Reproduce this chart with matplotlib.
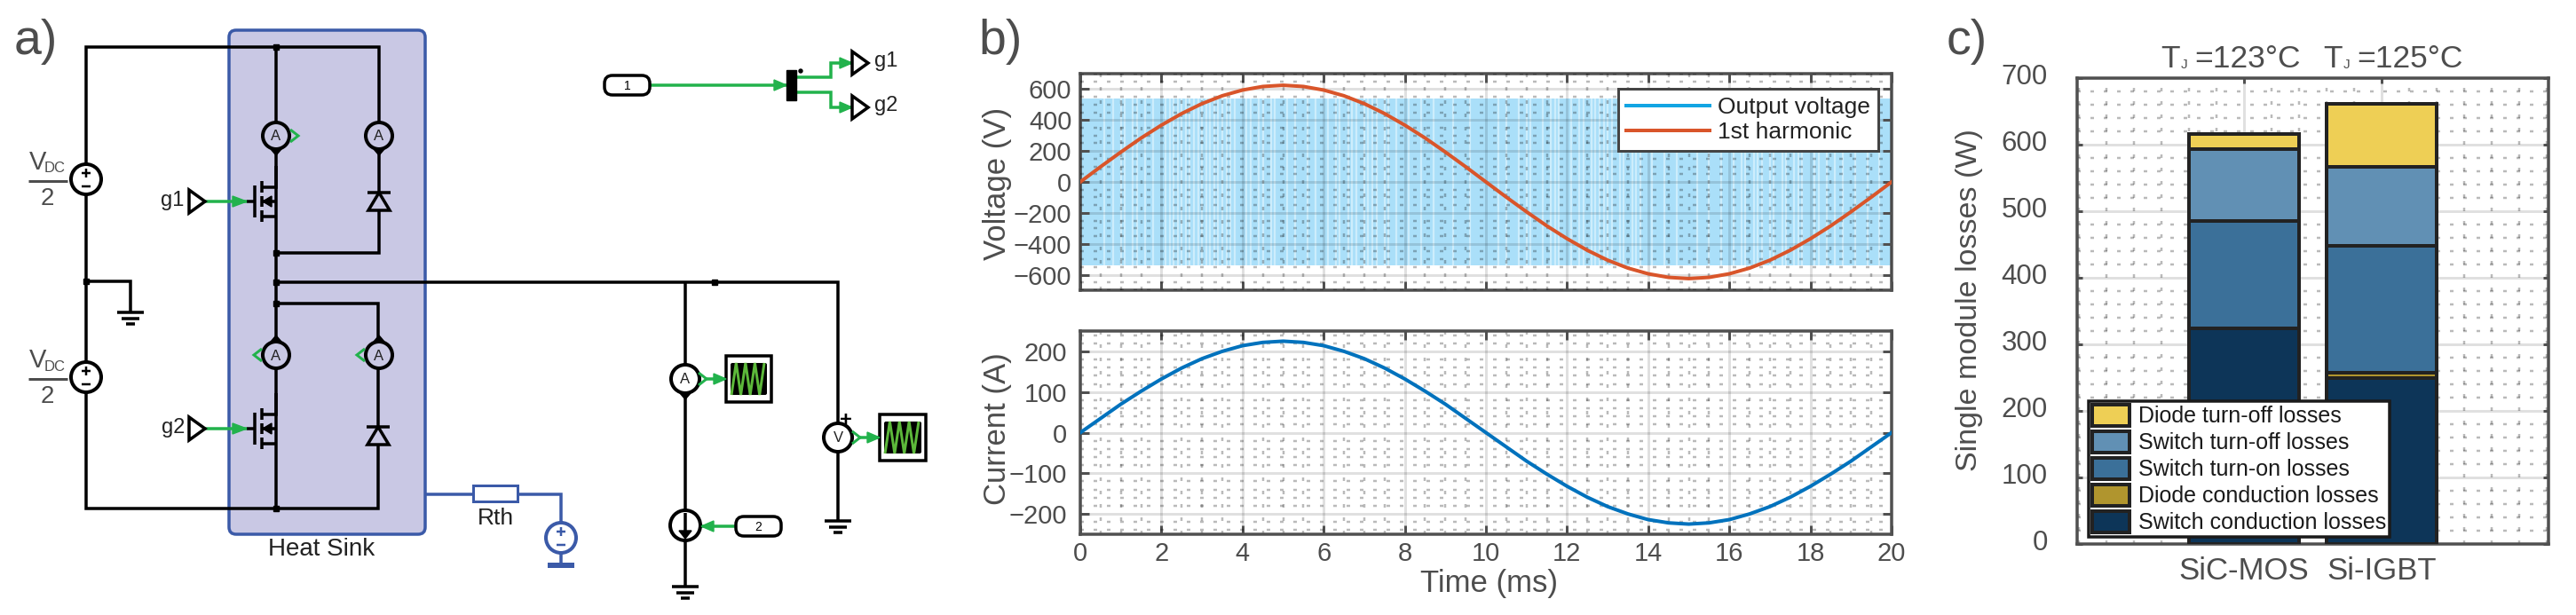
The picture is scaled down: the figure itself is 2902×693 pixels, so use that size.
#
# Inverter model schematic, output waveforms and module losses
#
import matplotlib

matplotlib.use("Agg")
import matplotlib.pyplot as plt
from matplotlib.lines import Line2D
from matplotlib.patches import Circle, FancyBboxPatch, Polygon, Rectangle
from matplotlib.ticker import MultipleLocator
from matplotlib.transforms import ScaledTranslation

plt.rcParams["font.family"] = ["Liberation Sans", "DejaVu Sans"]

# harmonic and current read every 0.5 ms
time_ms = [
    0, 0.5, 1, 1.5, 2, 2.5, 3, 3.5, 4, 4.5, 5, 5.5, 6, 6.5, 7, 7.5, 8, 8.5, 9, 9.5, 10,
    10.5, 11, 11.5, 12, 12.5, 13, 13.5, 14, 14.5, 15, 15.5, 16, 16.5, 17, 17.5, 18,
    18.5, 19, 19.5, 20,
]
harmonic_v = [
    0, 98, 193, 284, 367, 442, 506, 557, 594, 617, 625, 617, 594, 557, 506, 442, 367,
    284, 193, 98, 0, -98, -193, -284, -367, -442, -506, -557, -594, -617, -625, -617,
    -594, -557, -506, -442, -367, -284, -193, -98, 0,
]
current_a = [
    0, 35, 70, 102, 132, 159, 182, 200, 214, 222, 225, 222, 214, 200, 182, 159, 132,
    102, 70, 35, 0, -35, -70, -102, -132, -159, -182, -200, -214, -222, -225, -222,
    -214, -200, -182, -159, -132, -102, -70, -35, 0,
]

# PWM output: envelope of the band and the paler pulses seen in it
band_t = [0, 20]
band_hi = [542, 542]
band_lo = [-542, -542]
pale_pulses_ms = [
    0.6, 0.8, 1.0, 1.1, 1.3, 1.4, 1.6, 1.8, 2.1, 2.2, 2.3, 2.4, 2.5, 2.6, 2.7, 2.8, 2.9,
    3.0, 3.1, 3.2, 3.3, 3.4, 3.5, 3.6, 3.7, 3.8, 4.1, 4.2, 4.4, 4.5, 4.7, 4.8, 5.1, 5.3,
    5.6, 5.8, 6.1, 6.3, 6.4, 6.6, 6.7, 6.8, 7.0, 7.1, 7.2, 7.3, 7.5, 7.6, 7.8, 8.1, 8.4,
    8.7, 9.2, 9.6, 10.3, 10.5, 10.8, 11.0, 11.1, 11.4, 11.6, 11.7, 11.8, 12.1, 12.3,
    12.4, 12.6, 12.7, 12.8, 12.9, 13.0, 13.1, 13.3, 13.4, 13.6, 13.7, 13.8, 14.1, 14.4,
    14.7, 15.2, 15.5, 15.8, 16.1, 16.3, 16.4, 16.6, 16.7, 16.8, 17.0, 17.1, 17.3, 17.4,
    17.6, 17.7, 17.8, 18.1, 18.2, 18.4, 18.6, 18.8, 19.1, 19.4, 19.7,
]

# stacked losses per module
devices = ["SiC-MOS", "Si-IGBT"]
device_x = [1, 2]
junction_temps = ["=123°C", "=125°C"]
loss_names = [
    "Switch conduction losses",
    "Diode conduction losses",
    "Switch turn-on losses",
    "Switch turn-off losses",
    "Diode turn-off losses",
]
switch_conduction = [324, 249]
diode_conduction = [0, 9]
switch_turn_on = [161, 190]
switch_turn_off = [109, 119]
diode_turn_off = [22, 95]
loss_colours = ["#0d3558", "#b0952e", "#3b7099", "#6190b4", "#eecf55"]

WIDTH, HEIGHT = 2902, 693
GREY = "#4d4d4d"
FRAME = "#505050"
GREEN = "#22b24c"
BLUE = "#3b5aa8"
PX = 0.72  # points per pixel at dpi 100


def axes_from_pixels(fig, left, top, right, bottom):
    rect = [left / WIDTH, 1 - bottom / HEIGHT, (right - left) / WIDTH, (bottom - top) / HEIGHT]
    return fig.add_axes(rect)


def style_axes(ax, tick_px=10, tick_size=21):
    for spine in ax.spines.values():
        spine.set_color(FRAME)
        spine.set_linewidth(3.5 * PX)
    ax.tick_params(
        which="major", direction="in", top=True, right=True, length=tick_px * PX,
        width=3 * PX, color=FRAME, labelcolor=GREY, labelsize=tick_size,
    )
    ax.tick_params(which="minor", length=0)
    ax.grid(which="major", color="k", alpha=0.12, lw=3 * PX)
    ax.grid(which="minor", color="k", alpha=0.27, lw=2.5 * PX, ls=(0, (1.6, 4.4)))


def wire(ax, xs, ys, color="k", lw=3.5, zorder=3):
    ax.plot(xs, ys, color=color, lw=lw * PX, solid_joinstyle="miter", solid_capstyle="butt", zorder=zorder)


def node(ax, x, y, size=6):
    ax.add_patch(Rectangle((x - size / 2, y - size / 2), size, size, color="k", zorder=4))


def signal(ax, xs, ys, head=14):
    # green line ending in a filled arrow head
    wire(ax, xs, ys, GREEN, 3.5)
    x0, y0, x1, y1 = xs[-2], ys[-2], xs[-1], ys[-1]
    sign = 1 if x1 > x0 else -1
    ax.add_patch(
        Polygon([(x1, y1), (x1 - sign * head, y1 - 6), (x1 - sign * head, y1 + 6)], color=GREEN, zorder=5)
    )


def meter(ax, x, y, letter, r=15, face="none", arrow=None):
    ax.add_patch(Circle((x, y), r, fc=face, ec="k", lw=4 * PX, zorder=5))
    ax.text(x, y + 1, letter, ha="center", va="center", fontsize=12, color="#222222", zorder=6)
    if arrow == "down":
        ax.add_patch(Polygon([(x - 6, y + r), (x + 6, y + r), (x, y + r + 7)], color="k", zorder=5))
    if arrow == "up":
        ax.add_patch(Polygon([(x - 6, y - r), (x + 6, y - r), (x, y - r - 7)], color="k", zorder=5))


def sense_mark(ax, x, y, sign):
    wire(ax, [x, x + sign * 9, x], [y - 7, y, y + 7], GREEN, 3, zorder=6)


def dc_source(ax, x, y, color="k", r=17):
    ax.add_patch(Circle((x, y), r, fc="white", ec=color, lw=4 * PX, zorder=5))
    wire(ax, [x - 5, x + 5], [y - 7, y - 7], color, 2.5, zorder=6)
    wire(ax, [x, x], [y - 12, y - 2], color, 2.5, zorder=6)
    wire(ax, [x - 5, x + 5], [y + 8, y + 8], color, 2.5, zorder=6)


def ground(ax, x, y):
    wire(ax, [x - 15, x + 15], [y, y])
    wire(ax, [x - 10, x + 10], [y + 7, y + 7])
    wire(ax, [x - 5, x + 5], [y + 13, y + 13])


def goto_tag(ax, x, y):
    ax.add_patch(Polygon([(x, y - 13), (x + 18, y), (x, y + 13)], fc="none", ec="k", lw=3.5 * PX, zorder=5))


def pill(ax, x0, x1, y, text):
    ax.add_patch(
        FancyBboxPatch(
            (x0 + 9, y - 2), x1 - x0 - 18, 4, boxstyle="round,pad=9", fc="white", ec="k", lw=3.5 * PX, zorder=5
        )
    )
    ax.text((x0 + x1) / 2, y + 1, text, ha="center", va="center", fontsize=10, zorder=6)


def mosfet(ax, y):
    # y is the gate level
    wire(ax, [287, 287], [y - 18, y + 18], "k", 3.5)
    wire(ax, [295, 295], [y - 23, y - 10])
    wire(ax, [295, 295], [y - 6, y + 6])
    wire(ax, [295, 295], [y + 10, y + 23])
    wire(ax, [295, 311, 311], [y - 16, y - 16, y - 40])
    wire(ax, [295, 311], [y + 17, y + 17])
    wire(ax, [295, 311], [y, y])
    ax.add_patch(Polygon([(296, y), (306, y - 6), (306, y + 6)], color="k", zorder=4))


def diode(ax, x, y):
    wire(ax, [x - 13, x + 13], [y, y], "k", 3.5)
    ax.add_patch(Polygon([(x, y), (x - 12, y + 20), (x + 12, y + 20)], fc="none", ec="k", lw=3.5 * PX, zorder=4))


def scope(ax, x0, y0, x1, y1):
    ax.add_patch(Rectangle((x0, y0), x1 - x0, y1 - y0, fc="white", ec="k", lw=3.5 * PX, zorder=4))
    ax.add_patch(
        FancyBboxPatch(
            (x0 + 7, y0 + 10), x1 - x0 - 14, y1 - y0 - 20, boxstyle="round,pad=2", fc="k", ec="none", zorder=5
        )
    )
    step = (x1 - x0 - 14) / 7
    low, high = y1 - 8, y0 + 8
    xs = [x0 + 6 + i * step for i in range(8)]
    ys = [low, high, low, high, low, high, low, high]
    wire(ax, xs, ys, "#5cb83a", 3, zorder=6)


def vdc_label(ax, y):
    ax.text(33, y - 21, "V", fontsize=21, color=GREY, ha="left", va="center")
    ax.text(50, y - 14, "DC", fontsize=12, color=GREY, ha="left", va="center")
    wire(ax, [32, 76], [y, y], GREY, 3)
    ax.text(53, y + 20, "2", fontsize=20, color=GREY, ha="center", va="center")


def draw_schematic(ax):
    ax.add_patch(
        FancyBboxPatch(
            (266, 42), 205, 552, boxstyle="round,pad=8", fc="#c9c8e4", ec=BLUE, lw=3.5 * PX, zorder=1
        )
    )
    # power stage
    wire(ax, [427, 427, 97, 97, 426, 426], [140, 53, 53, 573, 573, 501])
    wire(ax, [311, 311], [53, 573])
    wire(ax, [427, 427], [167, 217])
    wire(ax, [427, 427, 311], [237, 285, 285])
    wire(ax, [311, 944, 944], [318, 318, 587])
    wire(ax, [311, 426, 426], [342, 342, 481])
    wire(ax, [97, 147, 147], [317, 317, 352])
    for x, y in [(311, 53), (311, 285), (311, 318), (311, 342), (97, 317), (311, 573), (805, 318)]:
        node(ax, x, y)
    ground(ax, 147, 352)
    for y in [202, 425]:
        dc_source(ax, 97, y)
    vdc_label(ax, 204)
    vdc_label(ax, 427)
    for x, y, arrow, mark in [(311, 153, "down", 1), (427, 153, "down", 0), (311, 400, "up", -1), (427, 400, "up", -1)]:
        meter(ax, x, y, "A", face="#c9c8e4", arrow=arrow)
        if mark:
            sense_mark(ax, x + mark * 16, y, mark)
    mosfet(ax, 227)
    mosfet(ax, 483)
    diode(ax, 427, 217)
    diode(ax, 426, 481)
    # gate drives
    for y, name, tx in [(227, "g1", 194), (483, "g2", 195)]:
        goto_tag(ax, 213, y)
        signal(ax, [231, 278], [y, y], head=16)
        wire(ax, [278, 287], [y, y])
        ax.text(tx, y - 1, name, fontsize=17, ha="center", va="center", color="#222222")
    # thermal network
    wire(ax, [479, 533], [557, 557], BLUE)
    ax.add_patch(Rectangle((533, 547), 50, 18, fc="white", ec=BLUE, lw=3 * PX, zorder=4))
    wire(ax, [583, 632, 632], [557, 557, 635], BLUE)
    dc_source(ax, 632, 606, BLUE)
    wire(ax, [617, 647], [637, 637], BLUE, 6)
    ax.text(558, 584, "Rth", fontsize=19, ha="center", va="center", color="#222222")
    ax.text(362, 619, "Heat Sink", fontsize=20, ha="center", va="center", color="#222222")
    # modulator inputs
    pill(ax, 681, 732, 96, "1")
    signal(ax, [732, 886], [96, 96])
    ax.add_patch(Rectangle((886, 79), 11, 34, color="k", zorder=5))
    ax.add_patch(Circle((902, 80), 2, color="k", zorder=5))
    signal(ax, [897, 936, 936, 960], [87, 87, 71, 71])
    signal(ax, [897, 936, 936, 960], [104, 104, 121, 121])
    for y, name in [(71, "g1"), (121, "g2")]:
        goto_tag(ax, 960, y)
        ax.text(985, y - 2, name, fontsize=17, ha="left", va="center", color="#222222")
    # load branch
    wire(ax, [772, 772], [318, 661])
    meter(ax, 772, 427, "A", r=16, face="white", arrow="down")
    sense_mark(ax, 787, 427, 1)
    signal(ax, [795, 818], [427, 427], head=14)
    scope(ax, 818, 401, 869, 453)
    ax.add_patch(Circle((772, 592), 17, fc="white", ec="k", lw=4 * PX, zorder=5))
    wire(ax, [772, 772], [578, 600], zorder=6)
    ax.add_patch(Polygon([(765, 598), (779, 598), (772, 607)], color="k", zorder=6))
    pill(ax, 829, 880, 593, "2")
    signal(ax, [829, 790], [593, 593], head=14)
    ground(ax, 772, 661)
    meter(ax, 944, 493, "V", r=16, face="white")
    ax.text(953, 473, "+", fontsize=17, fontweight="bold", ha="center", va="center")
    sense_mark(ax, 960, 493, 1)
    signal(ax, [968, 991], [493, 493], head=14)
    scope(ax, 991, 467, 1043, 519)
    ground(ax, 944, 587)


def plot_voltage(fig, overlay):
    ax = axes_from_pixels(fig, 1217, 83, 2131, 327)
    ax.fill_between(band_t, band_lo, band_hi, color="#aadff9", lw=0, zorder=1)
    ax.vlines(pale_pulses_ms, band_lo[0], band_hi[0], color="#cdedfc", lw=2.2 * PX, zorder=1.2)
    ax.plot(time_ms, harmonic_v, color="#d9552a", lw=4 * PX, zorder=3)
    ax.set_xlim(0, 20)
    ax.set_ylim(-700, 700)
    ax.set_xticks(range(0, 21, 2))
    ax.set_yticks(range(-600, 601, 200))
    ax.xaxis.set_minor_locator(MultipleLocator(0.5))
    ax.yaxis.set_minor_locator(MultipleLocator(50))
    style_axes(ax)
    ax.set_axisbelow(False)
    ax.tick_params(labelbottom=False, pad=7)
    ax.set_ylabel("Voltage (V)", fontsize=25, color=GREY, va="center")
    ax.yaxis.set_label_coords(1124, 207, transform=overlay.transData)
    handles = [Line2D([], [], color="#12a5e3", lw=4 * PX), Line2D([], [], color="#d9552a", lw=4 * PX)]
    leg = ax.legend(
        handles, ["Output voltage", "1st harmonic"], loc="upper right",
        bbox_to_anchor=((2116 - 1217) / 914, (327 - 100) / 244), borderaxespad=0, fontsize=19,
        handlelength=3.56, handletextpad=0.35, borderpad=0.34, labelspacing=0.15,
        fancybox=False, framealpha=1, edgecolor="#444444", labelcolor="#222222",
    )
    leg.get_frame().set_linewidth(3 * PX)
    leg.set_zorder(6)


def plot_current(fig, overlay):
    ax = axes_from_pixels(fig, 1217, 373, 2131, 602)
    ax.plot(time_ms, current_a, color="#0072bd", lw=4 * PX, zorder=3)
    ax.set_xlim(0, 20)
    ax.set_ylim(-250, 250)
    ax.set_xticks(range(0, 21, 2))
    ax.set_yticks(range(-200, 201, 100))
    ax.xaxis.set_minor_locator(MultipleLocator(0.5))
    ax.yaxis.set_minor_locator(MultipleLocator(20))
    style_axes(ax)
    ax.set_axisbelow(True)
    ax.tick_params(axis="y", pad=11)
    ax.tick_params(axis="x", pad=6)
    ax.set_ylabel("Current (A)", fontsize=25, color=GREY, va="center")
    ax.yaxis.set_label_coords(1124, 483, transform=overlay.transData)
    ax.set_xlabel("Time (ms)", fontsize=25, color=GREY, va="center")
    ax.xaxis.set_label_coords(1678, 657, transform=overlay.transData)


def plot_losses(fig, overlay):
    ax = axes_from_pixels(fig, 2340, 88, 2871, 613)
    series = [switch_conduction, diode_conduction, switch_turn_on, switch_turn_off, diode_turn_off]
    bottom = [0, 0]
    bars = []
    for values, colour in zip(series, loss_colours):
        bars.append(ax.bar(device_x, values, 0.8, bottom=bottom, color=colour, edgecolor="#222222", lw=4 * PX, zorder=3))
        bottom = [b + v for b, v in zip(bottom, values)]
    ax.set_xlim(-0.213, 3.21)
    ax.set_ylim(0, 700)
    ax.set_xticks(device_x, devices)
    ax.set_yticks(range(0, 701, 100))
    ax.xaxis.set_minor_locator(MultipleLocator(0.2))
    ax.yaxis.set_minor_locator(MultipleLocator(20))
    style_axes(ax, tick_px=6, tick_size=22.5)
    ax.set_axisbelow(True)
    ax.tick_params(axis="y", pad=24)
    ax.tick_params(axis="x", labelsize=25, pad=10)
    # the tick labels sit a little above their ticks in this panel
    for label in ax.get_yticklabels():
        label.set_transform(label.get_transform() + ScaledTranslation(0, 4.4 / 100, fig.dpi_scale_trans))
    ax.set_ylabel("Single module losses (W)", fontsize=24.5, color=GREY, va="center")
    ax.yaxis.set_label_coords(2219, 338, transform=overlay.transData)
    leg = ax.legend(
        [bars[i][0] for i in range(4, -1, -1)], loss_names[::-1], loc="lower left",
        bbox_to_anchor=((2353 - 2340) / 531, (613 - 605) / 525), borderaxespad=0, fontsize=18,
        handlelength=1.68, handleheight=1.1, handletextpad=0.4, borderpad=0.15, labelspacing=0.18,
        fancybox=False, framealpha=1, edgecolor="#1a1a1a", labelcolor="#1a1a1a",
    )
    leg.get_frame().set_linewidth(3.5 * PX)
    leg.set_zorder(6)
    # junction temperatures above the bars
    for x0, temp in zip([2434, 2617], junction_temps):
        overlay.text(x0, 67, "T", fontsize=25.5, color=GREY, ha="left", va="center")
        overlay.text(x0 + 23, 73, "J", fontsize=11, color=GREY, ha="left", va="center")
        overlay.text(x0 + 38, 67, temp, fontsize=25.5, color=GREY, ha="left", va="center")


if __name__ == "__main__":
    fig = plt.figure(figsize=(WIDTH / 100, HEIGHT / 100), dpi=100)
    overlay = fig.add_axes([0, 0, 1, 1])
    overlay.set_xlim(0, WIDTH)
    overlay.set_ylim(HEIGHT, 0)
    overlay.axis("off")
    draw_schematic(overlay)
    for x, label in [(16, "a)"), (1102, "b)"), (2193, "c)")]:
        overlay.text(x, 47, label, fontsize=40, color=GREY, ha="left", va="center")
    plot_voltage(fig, overlay)
    plot_current(fig, overlay)
    plot_losses(fig, overlay)
    fig.savefig("out.png", dpi=100)
